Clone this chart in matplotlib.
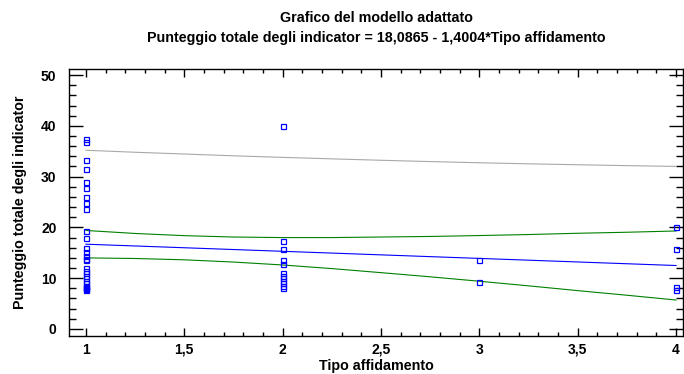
import numpy as np
from matplotlib import pyplot as plt
from matplotlib.ticker import MultipleLocator, FuncFormatter

plt.rcParams['font.family'] = ['Liberation Sans', 'DejaVu Sans']

# observed points (Tipo affidamento, Punteggio totale)
x_obs = [1]*28 + [2]*12 + [3]*2 + [4]*4
y_obs = [37.5, 36.8, 33.3, 31.5, 29.0, 27.8, 26.0, 24.8, 23.7, 19.2, 18.0, 16.0,
         15.2, 14.3, 13.8, 13.5, 12.0, 11.5, 11.0, 10.5, 10.0, 9.5, 9.0, 8.5,
         8.2, 8.0, 7.8, 7.7,
         39.9, 17.3, 15.7, 13.6, 12.8, 11.0, 10.5, 10.0, 9.5, 9.0, 8.5, 8.0,
         13.5, 9.2,
         20.0, 15.8, 8.2, 7.7]

# fitted model: 18,0865 - 1,4004*x
intercept = 18.0865
slope = -1.4004

# limits
x_band = [1, 1.25, 1.5, 1.75, 2, 2.25, 2.5, 2.75, 3, 3.25, 3.5, 3.75, 4]
conf_up = [19.39, 18.80, 18.37, 18.10, 17.99, 17.99, 18.10, 18.21, 18.39,
           18.59, 18.84, 19.04, 19.29]
conf_lo = [13.99, 13.87, 13.61, 13.17, 12.59, 11.88, 11.08, 10.26, 9.39,
           8.48, 7.54, 6.63, 5.69]
pred_up = [35.19, 34.80, 34.45, 34.10, 33.79, 33.50, 33.22, 32.96, 32.73,
           32.52, 32.34, 32.16, 32.01]

fig = plt.figure(figsize=(6.84, 3.74), dpi=100)
ax = fig.add_axes([0.1009, 0.1016, 0.8976, 0.7139])

xb = np.array(x_band)
ax.plot(xb, pred_up, color='#a8a8a8', lw=0.8)
ax.plot(xb, conf_up, color='#008000', lw=0.8)
ax.plot(xb, conf_lo, color='#008000', lw=0.8)
ax.plot(xb, intercept + slope*xb, color='#0000ff', lw=0.8)
ax.plot(x_obs, y_obs, 's', ms=3.6, mfc='none', mec='#0000ff', mew=0.9)

ax.set_xlim(0.914, 4.035)
ax.set_ylim(-1.4, 51.2)
ax.xaxis.set_major_locator(MultipleLocator(0.5))
ax.xaxis.set_minor_locator(MultipleLocator(0.1))
ax.yaxis.set_major_locator(MultipleLocator(10))
ax.yaxis.set_minor_locator(MultipleLocator(2))
ax.xaxis.set_major_formatter(FuncFormatter(lambda v, p: f'{v:g}'.replace('.', ',')))
ax.tick_params(which='both', direction='in', top=True, right=True, width=1)
ax.tick_params(axis='x', which='major', length=6, labelsize=10, pad=5)
ax.tick_params(axis='x', which='minor', length=3)
ax.tick_params(axis='y', which='major', length=10, labelsize=10, pad=9)
ax.tick_params(axis='y', which='minor', length=5)
for lab in ax.get_xticklabels() + ax.get_yticklabels():
    lab.set_fontweight('bold')
for sp in ax.spines.values():
    sp.set_linewidth(1)

ax.set_xlabel('Tipo affidamento', fontsize=10.3, fontweight='bold', labelpad=1.5)
ax.set_ylabel('Punteggio totale degli indicator', fontsize=10.3, fontweight='bold', labelpad=10)
ax.set_title('Grafico del modello adattato\n'
             'Punteggio totale degli indicator = 18,0865 - 1,4004*Tipo affidamento',
             fontsize=10.3, fontweight='bold', pad=19.5, linespacing=1.5)

fig.savefig('out.png', dpi=100)
